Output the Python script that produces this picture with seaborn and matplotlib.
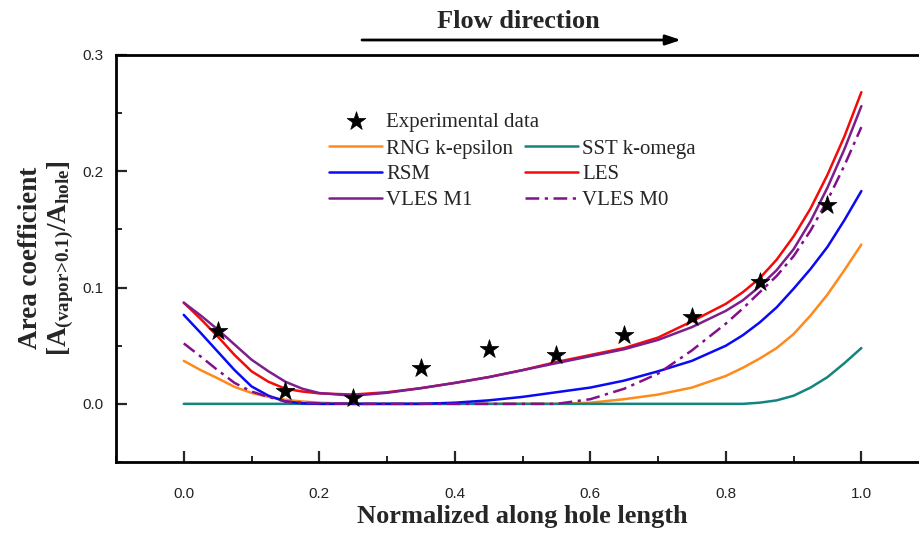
import numpy as np
import pandas as pd
import matplotlib
matplotlib.use("Agg")
import matplotlib.pyplot as plt
import seaborn as sns
from matplotlib.ticker import MultipleLocator

# ---------------- data ----------------
x_exp = [0.05, 0.15, 0.25, 0.35, 0.45, 0.55, 0.65, 0.75, 0.85, 0.95]
y_exp = [0.063, 0.011, 0.005, 0.031, 0.047, 0.042, 0.059, 0.075, 0.105, 0.171]

x_sim = [0.0, 0.025, 0.05, 0.075, 0.1, 0.125, 0.15, 0.175, 0.2,
         0.25, 0.3, 0.35, 0.4, 0.45, 0.5, 0.55, 0.6, 0.65, 0.7, 0.75,
         0.8, 0.825, 0.85, 0.875, 0.9, 0.925, 0.95, 0.975, 1.0]
rng_keps = [0.037, 0.029, 0.022, 0.0146, 0.0094, 0.006, 0.0035, 0.002, 0.001,
            0.0, 0.0, 0.0, 0.0, 0.0, 0.0, 0.0, 0.001, 0.004, 0.008, 0.014,
            0.024, 0.031, 0.039, 0.048, 0.060, 0.076, 0.094, 0.115, 0.137]
sst_kom = [0.0, 0.0, 0.0, 0.0, 0.0, 0.0, 0.0, 0.0, 0.0,
           0.0, 0.0, 0.0, 0.0, 0.0, 0.0, 0.0, 0.0, 0.0, 0.0, 0.0,
           0.0, 0.0, 0.001, 0.003, 0.007, 0.014, 0.023, 0.035, 0.048]
rsm = [0.0765, 0.061, 0.045, 0.029, 0.015, 0.007, 0.002, 0.0005, 0.0,
       0.0, 0.0, 0.0, 0.001, 0.003, 0.006, 0.010, 0.014, 0.020, 0.028, 0.037,
       0.050, 0.059, 0.070, 0.083, 0.099, 0.116, 0.135, 0.158, 0.183]
les = [0.087, 0.073, 0.058, 0.042, 0.028, 0.019, 0.013, 0.0106, 0.009,
       0.008, 0.010, 0.0135, 0.018, 0.023, 0.029, 0.036, 0.042, 0.048, 0.057, 0.071,
       0.086, 0.096, 0.108, 0.124, 0.144, 0.168, 0.197, 0.230, 0.268]
vles_m1 = [0.087, 0.076, 0.064, 0.051, 0.038, 0.028, 0.019, 0.013, 0.0093,
           0.007, 0.0095, 0.0135, 0.018, 0.023, 0.029, 0.035, 0.041, 0.047, 0.055, 0.066,
           0.080, 0.089, 0.101, 0.115, 0.133, 0.157, 0.186, 0.219, 0.256]
vles_m0 = [0.052, 0.0407, 0.029, 0.018, 0.0106, 0.006, 0.002, 0.001, 0.0005,
           0.0, 0.0, 0.0, 0.0, 0.0, 0.0, 0.0, 0.004, 0.013, 0.026, 0.046,
           0.069, 0.082, 0.096, 0.110, 0.127, 0.149, 0.175, 0.205, 0.238]

x_ticks = [0.0, 0.2, 0.4, 0.6, 0.8, 1.0]
y_ticks = [0.0, 0.1, 0.2, 0.3]

# ---------------- style ----------------
sns.set_style("ticks")
plt.rcParams["font.family"] = ["Liberation Serif", "DejaVu Serif"]
plt.rcParams["mathtext.fontset"] = "custom"
plt.rcParams["mathtext.rm"] = "Liberation Serif"
plt.rcParams["mathtext.bf"] = "Liberation Serif:bold"
plt.rcParams["mathtext.it"] = "Liberation Serif:italic"

fig = plt.figure(figsize=(9.2, 5.34), dpi=100)
W, H = 920, 534
ax = fig.add_axes([116 / W, 1 - 462 / H, (963 - 116) / W, (462 - 55) / H])

lw = 1.8
series = [
    ("RNG k-epsilon", rng_keps, "#FF8A1C", "-"),
    ("SST k-omega", sst_kom, "#13857D", "-"),
    ("RSM", rsm, "#0A0AF5", "-"),
    ("LES", les, "#F50A0A", "-"),
    ("VLES M1", vles_m1, "#7E1E8C", "-"),
    ("VLES M0", vles_m0, "#83108A", (0, (5.5, 2.2, 1.3, 2.2))),
]
for name, ys, col, ls in series:
    df = pd.DataFrame({"x": x_sim, "y": ys})
    sns.lineplot(data=df, x="x", y="y", ax=ax, color=col, lw=lw,
                 linestyle=ls, label=name, errorbar=None, sort=True)

df_exp = pd.DataFrame({"x": x_exp, "y": y_exp})
sns.scatterplot(data=df_exp, x="x", y="y", ax=ax, marker="*", s=200,
                color="black", edgecolor="black", linewidth=0.5,
                label="Experimental data", zorder=5)

ax.set_xlim(-0.1, 1.15)
ax.set_ylim(-0.05, 0.3)
ax.set_xticks(x_ticks)
ax.set_yticks(y_ticks)
ax.set_xticklabels([f"{v:.1f}" for v in x_ticks])
ax.set_yticklabels([f"{v:.1f}" for v in y_ticks])
ax.xaxis.set_minor_locator(MultipleLocator(0.1))
ax.yaxis.set_minor_locator(MultipleLocator(0.05))
ax.tick_params(which="major", direction="in", length=8, width=1.6,
               labelsize=11, pad=14)
ax.tick_params(which="minor", direction="in", length=4.5, width=1.4)
ax.tick_params(axis="y", which="major", pad=9)
ax.tick_params(axis="x", which="major", pad=18)
for lab in ax.get_xticklabels() + ax.get_yticklabels():
    lab.set_family(["Liberation Sans", "DejaVu Sans"])
    lab.set_color("#222222")
for sp in ax.spines.values():
    sp.set_linewidth(2.0)
    sp.set_color("black")

ax.set_xlabel("")
ax.set_ylabel("")
fig.text(522 / W, 1 - 517 / H, "Normalized along hole length", ha="center",
         va="center", fontsize=19, fontweight="bold")
fig.text(31 / W, 1 - 258 / H, "Area coefficient", ha="center", va="center",
         rotation=90, fontsize=19.5, fontweight="bold")
fig.text(61 / W, 1 - 258 / H,
         r"$\mathbf{[A_{(vapor\!>\!0.1)}/A_{hole}]}$", ha="center", va="center",
         rotation=90, fontsize=19.5)

# Flow direction annotation
fig.text(518 / W, 1 - 21 / H, "Flow direction", ha="center", va="center",
         fontsize=19, fontweight="bold")
ax.annotate("", xy=(681 / W, 1 - 40 / H), xytext=(362 / W, 1 - 40 / H),
            xycoords="figure fraction", textcoords="figure fraction",
            arrowprops=dict(arrowstyle="-|>,head_length=0.9,head_width=0.3",
                            color="black", lw=2.0, shrinkA=0, shrinkB=0))

# Legends: star row on its own, then 2-column grid of the model lines
h, l = ax.get_legend_handles_labels()
hd = dict(zip(l, h))
leg_kw = dict(frameon=False, fontsize=15, loc="upper left",
              bbox_transform=fig.transFigure, handlelength=2.55,
              handletextpad=0.2, borderaxespad=0, borderpad=0,
              scatterpoints=1)
leg1 = ax.legend([hd["Experimental data"]], ["Experimental data"],
                 bbox_to_anchor=(329 / W, 1 - 112 / H), **leg_kw)
ax.add_artist(leg1)
order_l = ["RNG k-epsilon", "RSM", "VLES M1", "SST k-omega", "LES", "VLES M0"]
ax.legend([hd[k] for k in order_l], order_l, ncol=2,
          bbox_to_anchor=(329 / W, 1 - 139 / H), columnspacing=0.55,
          labelspacing=0.3, **leg_kw)

fig.savefig("out.png", dpi=100)
